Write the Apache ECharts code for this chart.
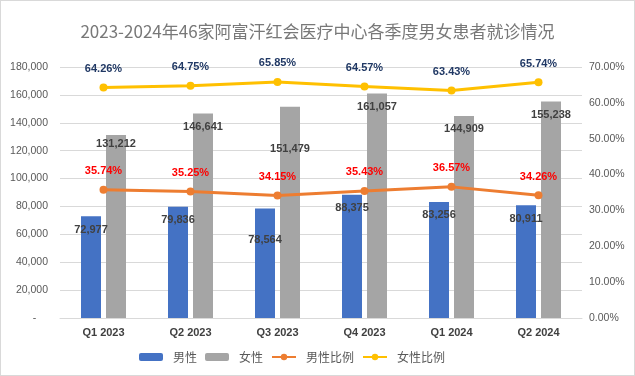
<!DOCTYPE html>
<html>
<head>
<meta charset="utf-8">
<script src="https://cdn.jsdelivr.net/npm/echarts@6/dist/echarts.min.js"></script>
<style>
    html, body { margin: 0; padding: 0; background: #fff; }
    #chart { width: 635px; height: 376px; box-sizing: border-box; border: 1px solid #d9d9d9; }
</style>
</head>
<body>
<div id="chart"></div>
<script>
// 季度
const quarters = ['Q1 2023', 'Q2 2023', 'Q3 2023', 'Q4 2023', 'Q1 2024', 'Q2 2024'];
// 就诊人数
const maleCounts = [72977, 79836, 78564, 88375, 83256, 80911];
const femaleCounts = [131212, 146641, 151479, 161057, 144909, 155238];
// 比例 (%)
const maleRatio = [35.74, 35.25, 34.15, 35.43, 36.57, 34.26];
const femaleRatio = [64.26, 64.75, 65.85, 64.57, 63.43, 65.74];
// 左轴刻度
const leftTicks = [0, 20000, 40000, 60000, 80000, 100000, 120000, 140000, 160000, 180000];

const fontFamily = '"Liberation Sans", Arial, "Noto Sans CJK SC", sans-serif';

// 个别数据标签的垂直偏移 (原图中手动挪动过)
const maleLabelShift = { 2: 18 };
const femaleLabelShift = { 0: -5, 2: 29 };

function barItems(values, shift) {
    return values.map((v, i) => {
        const item = { value: v };
        if (shift[i] !== undefined) {
            item.label = { offset: [0, shift[i]] };
        }
        return item;
    });
}

const barLabel = {
    show: true,
    position: 'insideTop',
    distance: 8,
    color: '#404040',
    fontWeight: 'bold',
    fontSize: 11,
    fontFamily: fontFamily,
    formatter: p => p.value.toLocaleString('en-US')
};

let chart = echarts.init(document.getElementById('chart'));
chart.setOption({
    animation: false,
    title: {
        text: '2023-2024年46家阿富汗红会医疗中心各季度男女患者就诊情况',
        left: 'center',
        top: 17,
        textStyle: {
            color: '#787878',
            fontSize: 17,
            fontWeight: 'normal',
            fontFamily: '"Noto Sans CJK SC", sans-serif'
        }
    },
    legend: {
        left: 133,
        top: 345,
        itemWidth: 24,
        itemHeight: 8,
        itemGap: 8,
        textStyle: {
            color: '#595959',
            fontSize: 12,
            fontFamily: '"Noto Sans CJK SC", sans-serif',
            padding: [0, 0, 0, 5]
        },
        data: [
            { name: '男性', textStyle: { width: 24 } },
            { name: '女性', textStyle: { width: 33 } },
            { name: '男性比例', textStyle: { width: 74 } },
            { name: '女性比例' }
        ]
    },
    grid: {
        left: 59,
        right: 52,
        top: 66,
        bottom: 57
    },
    xAxis: {
        type: 'category',
        data: quarters,
        axisLine: { lineStyle: { color: '#d9d9d9', width: 1 } },
        axisTick: { show: false },
        axisLabel: {
            color: '#404040',
            fontWeight: 'bold',
            fontSize: 11,
            fontFamily: fontFamily,
            margin: 9
        }
    },
    yAxis: [
        {
            type: 'value',
            min: leftTicks[0],
            max: leftTicks[leftTicks.length - 1],
            interval: leftTicks[1] - leftTicks[0],
            axisLine: { show: false },
            axisTick: { show: false },
            splitLine: { lineStyle: { color: '#d9d9d9' } },
            axisLabel: {
                color: '#595959',
                fontSize: 10.5,
                fontFamily: fontFamily,
                margin: 12,
                formatter: v => v === 0 ? '-    ' : v.toLocaleString('en-US')
            }
        },
        {
            type: 'value',
            min: 0,
            max: 70,
            interval: 10,
            axisLine: { show: false },
            axisTick: { show: false },
            splitLine: { show: false },
            axisLabel: {
                color: '#595959',
                fontSize: 10.5,
                fontFamily: fontFamily,
                margin: 7,
                formatter: v => v.toFixed(2) + '%'
            }
        }
    ],
    series: [
        {
            name: '男性',
            type: 'bar',
            barWidth: 20,
            barGap: '25%',
            itemStyle: { color: '#4472C4' },
            label: barLabel,
            data: barItems(maleCounts, maleLabelShift)
        },
        {
            name: '女性',
            type: 'bar',
            barWidth: 20,
            barGap: '25%',
            itemStyle: { color: '#A5A5A5' },
            label: barLabel,
            data: barItems(femaleCounts, femaleLabelShift)
        },
        {
            name: '男性比例',
            type: 'line',
            yAxisIndex: 1,
            symbol: 'circle',
            symbolSize: 8,
            lineStyle: { color: '#ED7D31', width: 3 },
            itemStyle: { color: '#ED7D31' },
            label: {
                show: true,
                position: 'top',
                distance: 9,
                color: '#FF0000',
                fontWeight: 'bold',
                fontSize: 11,
                fontFamily: fontFamily,
                formatter: p => p.value.toFixed(2) + '%'
            },
            data: maleRatio
        },
        {
            name: '女性比例',
            type: 'line',
            yAxisIndex: 1,
            symbol: 'circle',
            symbolSize: 8,
            lineStyle: { color: '#FFC000', width: 3 },
            itemStyle: { color: '#FFC000' },
            label: {
                show: true,
                position: 'top',
                distance: 9,
                color: '#203864',
                fontWeight: 'bold',
                fontSize: 11,
                fontFamily: fontFamily,
                formatter: p => p.value.toFixed(2) + '%'
            },
            data: femaleRatio
        }
    ]
});
window.onresize = function () {
    chart.resize();
};
</script>
</body>
</html>
